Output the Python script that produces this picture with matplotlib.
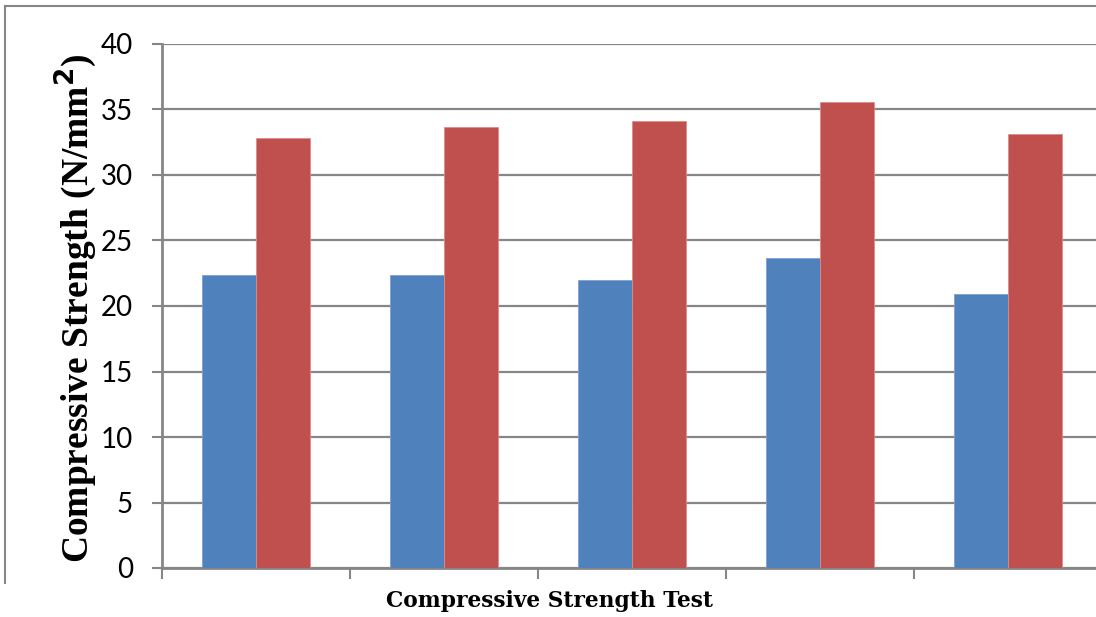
import numpy as np
import matplotlib
matplotlib.use('Agg')
from matplotlib import pyplot as plt
from matplotlib.lines import Line2D

categories = ['1', '2', '3', '4', '5']
series_blue = [22.4, 22.4, 22.0, 23.7, 20.9]
series_red = [32.8, 33.7, 34.1, 35.6, 33.1]
yticks = [0, 5, 10, 15, 20, 25, 30, 35, 40]

fig = plt.figure(figsize=(10.96, 6.17), dpi=100)
ax = fig.add_axes([162/1096, 49/617, 940/1096, 524/617])

x = np.arange(len(categories))
w = 54/188
ax.bar(x - w/2, series_blue, w, color='#4F81BD', edgecolor='#7FA0CF', linewidth=0.6, zorder=3)
ax.bar(x + w/2, series_red, w, color='#C0504D', edgecolor='#D98C8A', linewidth=0.6, zorder=3)

ax.set_xlim(-0.5, len(categories) - 0.5)
ax.set_ylim(0, 40)
ax.set_yticks(yticks)
ax.set_yticklabels([str(t) for t in yticks], fontfamily='Lato', fontsize=20)
ax.set_xticks(np.arange(len(categories) + 1) - 0.5)
ax.set_xticklabels([])
ax.tick_params(axis='y', length=7, width=1.5, color='#868686', pad=14)
ax.tick_params(axis='x', length=8, width=1.5, color='#868686')

ax.grid(axis='y', color='#868686', linewidth=1.6, zorder=0)
for s in ['top', 'right']:
    ax.spines[s].set_visible(False)
for s in ['left', 'bottom']:
    ax.spines[s].set_color('#868686')
    ax.spines[s].set_linewidth(2)

fig.text(549/1096, 1 - 601/617, 'Compressive Strength Test', ha='center', va='center',
         fontfamily='DejaVu Serif', fontweight='bold', fontsize=15.7)
fig.text(76/1096, 1 - 308/617, 'Compressive Strength (N/mm$^\\mathbf{2}$)', rotation=90,
         ha='center', va='center', fontfamily='Liberation Serif', fontweight='bold', fontsize=27)

# outer chart frame (cropped)
fig.add_artist(Line2D([4.5/1096, 4.5/1096], [1 - 583/617, 1 - 6/617], color='#868686', lw=1.5, transform=fig.transFigure))
fig.add_artist(Line2D([4.5/1096, 1], [1 - 6/617, 1 - 6/617], color='#868686', lw=1.5, transform=fig.transFigure))

fig.savefig('out.png', dpi=100)
